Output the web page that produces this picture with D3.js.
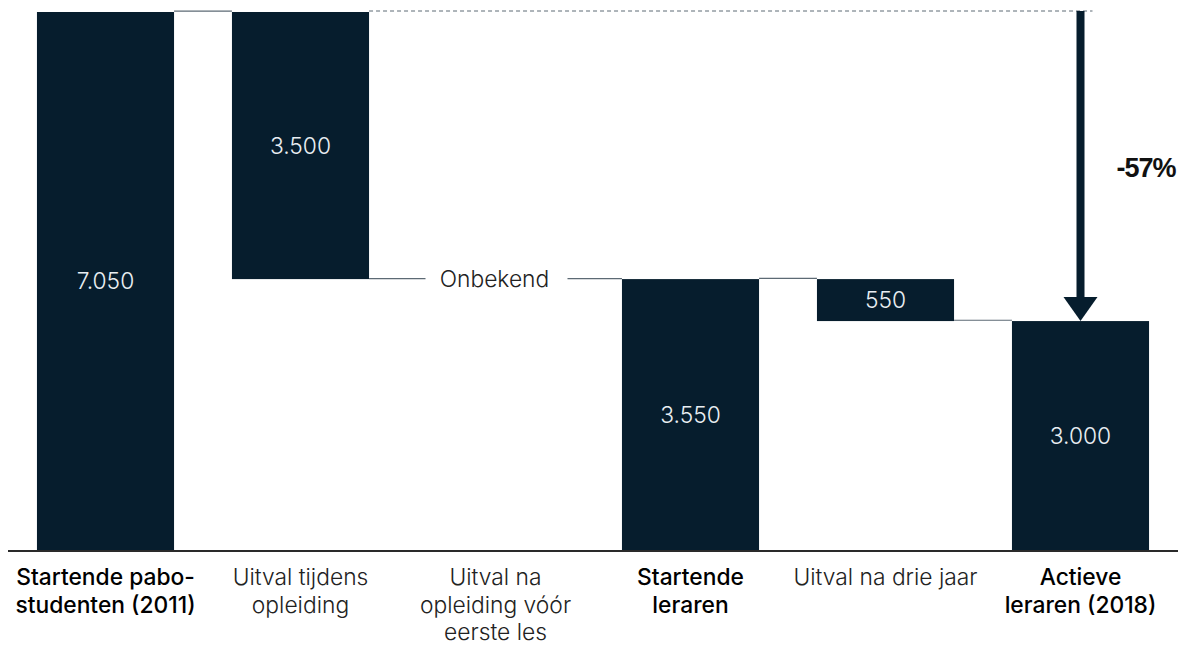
<!DOCTYPE html>
<html>
<head>
<meta charset="utf-8">
<script src="https://cdn.jsdelivr.net/npm/d3@7"></script>
<style>
  html, body { margin: 0; padding: 0; background: #fff; }
  svg { display: block; }
</style>
</head>
<body>
<svg id="chart" width="1184" height="645"></svg>
<script>
// Instroom en uitval van leraren, waterval 2011 → 2018
const categories = [
  ["Startende pabo-", "studenten (2011)"],
  ["Uitval tijdens", "opleiding"],
  ["Uitval na", "opleiding vóór", "eerste les"],
  ["Startende", "leraren"],
  ["Uitval na drie jaar"],
  ["Actieve", "leraren (2018)"]
];
const values = [7050, -3500, null, 3550, -550, 3000];   // null = onbekend
const isTotal = [true, false, false, true, false, true];
const valueLabels = ["7.050", "3.500", "", "3.550", "550", "3.000"];
const unknownLabel = "Onbekend";
const changeLabel = "-57%";

const W = 1184, H = 645;
const svg = d3.select("#chart");
const navy = "#061d2d";
const connColor = "#5d6a74";
const font = "Inter, 'Liberation Sans', Arial, sans-serif";
const fs = 22.8;

const x = d3.scaleBand()
  .domain(d3.range(categories.length))
  .range([8, 1178])
  .paddingInner(0.297)
  .paddingOuter(0.1485);

const y = d3.scaleLinear().domain([0, 7050]).range([550, 12]);

// compute running start/end for each step
let running = 0;
const steps = values.map((v, i) => {
  if (v === null) return { i, start: running, end: running, empty: true };
  let s, e;
  if (isTotal[i]) { s = 0; e = v; running = v; }
  else { s = running; e = running + v; running = e; }
  return { i, start: s, end: e, empty: false };
});

// bars
svg.append("g").selectAll("rect")
  .data(steps.filter(d => !d.empty))
  .join("rect")
  .attr("x", d => x(d.i))
  .attr("width", x.bandwidth())
  .attr("y", d => y(Math.max(d.start, d.end)))
  .attr("height", d => Math.abs(y(d.start) - y(d.end)))
  .attr("fill", navy);

// value labels inside bars
svg.append("g").selectAll("text")
  .data(steps.filter(d => !d.empty))
  .join("text")
  .attr("x", d => x(d.i) + x.bandwidth() / 2)
  .attr("y", d => (y(d.start) + y(d.end)) / 2 + 8)
  .attr("text-anchor", "middle")
  .attr("font-family", font)
  .attr("font-size", fs)
  .attr("font-weight", 300)
  .attr("fill", "#e9eef2")
  .text(d => valueLabels[d.i]);

// connectors between consecutive steps
const conn = svg.append("g").attr("stroke", connColor).attr("stroke-width", 1.2);
for (let k = 0; k < steps.length - 1; k++) {
  const a = steps[k], b = steps[k + 1];
  if (a.empty || b.empty) continue;
  const lvl = a.end;
  conn.append("line")
    .attr("x1", x(a.i) + x.bandwidth()).attr("x2", x(b.i))
    .attr("y1", y(lvl) - 0.8).attr("y2", y(lvl) - 0.8);
}
// connector through the unknown step, broken by its label
{
  const a = steps[1], b = steps[3], mid = steps[2];
  const lvlY = y(a.end) - 0.5;
  const cx = x(mid.i) + x.bandwidth() / 2;
  conn.append("line")
    .attr("x1", x(a.i) + x.bandwidth()).attr("x2", cx - 70)
    .attr("y1", lvlY).attr("y2", lvlY);
  conn.append("line")
    .attr("x1", cx + 72).attr("x2", x(b.i))
    .attr("y1", lvlY).attr("y2", lvlY);
  svg.append("text")
    .attr("x", cx - 1).attr("y", lvlY + 8.5)
    .attr("text-anchor", "middle")
    .attr("font-family", font).attr("font-size", fs).attr("font-weight", 300)
    .attr("fill", "#222")
    .text(unknownLabel);
}

// dashed reference at the starting level
const last = steps[steps.length - 1];
const arrowX = x(last.i) + x.bandwidth() / 2;
svg.append("line")
  .attr("x1", x(1) + x.bandwidth()).attr("x2", arrowX + 12)
  .attr("y1", y(values[0]) - 1).attr("y2", y(values[0]) - 1)
  .attr("stroke", connColor).attr("stroke-width", 1)
  .attr("stroke-dasharray", "4,3");

// overall change arrow
const yTop = y(values[0]) - 1, yBot = y(last.end);
svg.append("rect")
  .attr("x", arrowX - 4).attr("width", 8)
  .attr("y", yTop).attr("height", yBot - yTop - 22)
  .attr("fill", navy);
svg.append("path")
  .attr("d", `M${arrowX - 17},${yBot - 24} L${arrowX + 17},${yBot - 24} L${arrowX},${yBot} Z`)
  .attr("fill", navy);
svg.append("text")
  .attr("x", 1146).attr("y", 177)
  .attr("text-anchor", "middle")
  .attr("font-family", "'Liberation Sans', Arial, sans-serif")
  .attr("font-size", 27).attr("font-weight", "bold")
  .attr("fill", "#111")
  .attr("letter-spacing", -1)
  .text(changeLabel);

// baseline
svg.append("line")
  .attr("x1", 8).attr("x2", 1178)
  .attr("y1", 551).attr("y2", 551)
  .attr("stroke", "#2a2a2a").attr("stroke-width", 2);

// category labels
const lab = svg.append("g").selectAll("text")
  .data(categories)
  .join("text")
  .attr("x", (d, i) => x(i) + x.bandwidth() / 2)
  .attr("y", 585)
  .attr("text-anchor", "middle")
  .attr("font-family", font)
  .attr("font-size", fs)
  .attr("font-weight", (d, i) => isTotal[i] ? 500 : 300)
  .attr("fill", (d, i) => isTotal[i] ? "#000" : "#222");
lab.selectAll("tspan")
  .data(d => d)
  .join("tspan")
  .attr("x", function () { return this.parentNode.getAttribute("x"); })
  .attr("dy", (d, j) => j === 0 ? 0 : 27.5)
  .text(d => d);
</script>
</body>
</html>
